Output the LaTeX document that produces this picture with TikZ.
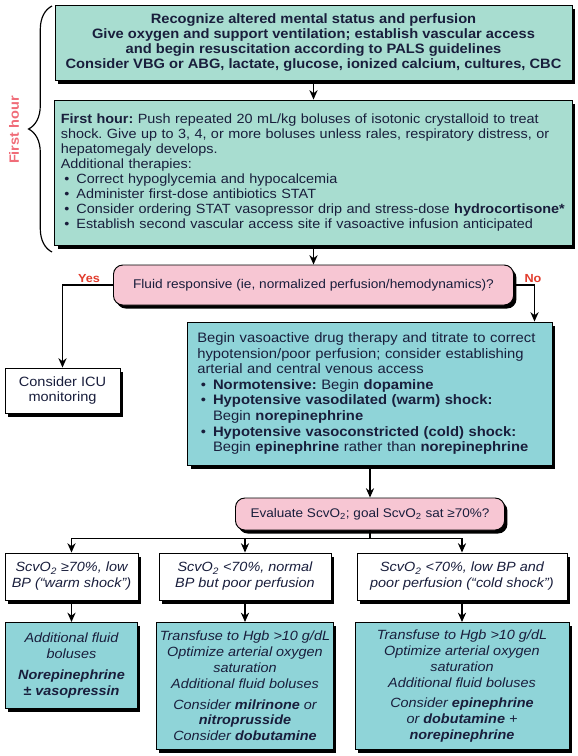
\documentclass[tikz,border=0pt]{standalone}
\usepackage{fontspec}
\setmainfont[FakeStretch=1.08]{Liberation Sans}
\usetikzlibrary{arrows.meta, shadows, calc, decorations.pathreplacing}
\frenchspacing

\definecolor{topgreen}{RGB}{168,221,208}
\definecolor{boxteal}{RGB}{143,212,216}
\definecolor{decpink}{RGB}{247,198,211}
\definecolor{hourred}{RGB}{240,108,120}
\definecolor{yesred}{RGB}{226,60,45}
\definecolor{ink}{RGB}{25,30,60}

\newcommand{\bul}{\hspace*{3pt}\textbullet\hspace*{6pt}}
\newcommand{\bulskip}{\hspace*{3pt}\phantom{\textbullet}\hspace*{6pt}}

\tikzset{
  shadowed/.style={drop shadow={shadow xshift=2.5pt, shadow yshift=-3pt, fill=black, opacity=1}},
  greenbox/.style={draw, line width=0.8pt, fill=topgreen, shadowed, inner xsep=5pt, inner ysep=3pt, text=ink},
  tealbox/.style={greenbox, fill=boxteal},
  whitebox/.style={greenbox, fill=white},
  pinkbox/.style={greenbox, fill=decpink, rounded corners=8pt},
  flow/.style={line width=1.2pt, -{Stealth[length=8pt, width=7pt]}},
  answer/.style={text=yesred, font=\bfseries\fontsize{10}{11}\selectfont},
  body/.style={font=\fontsize{11.4}{12.8}\selectfont},
  itbody/.style={font=\itshape\fontsize{11.4}{13.6}\selectfont},
}

\begin{document}
\begin{tikzpicture}[x=0.03cm, y=-0.03cm]
    \fill[white] (0,0) rectangle (577,756);
    \useasboundingbox (0,0) rectangle (577,756);

    % first hour boxes
    \node[greenbox, minimum width=15.51cm, minimum height=2.25cm, align=center,
          font=\bfseries\fontsize{11.6}{12.8}\selectfont] (assess) at (313.5,42.5)
        {Recognize altered mental status and perfusion\\
         Give oxygen and support ventilation; establish vascular access\\
         and begin resuscitation according to PALS guidelines\\
         Consider VBG or ABG, lactate, glucose, ionized calcium, cultures, CBC};
    \node[greenbox, body, text width=15.16cm, minimum height=4.35cm, align=left] (fluids) at (313.5,172.5)
        {\textbf{First hour:} Push repeated 20 mL/kg boluses of isotonic crystalloid to treat\\
         shock. Give up to 3, 4, or more boluses unless rales, respiratory distress, or\\
         hepatomegaly develops.\\
         Additional therapies:\\
         \bul Correct hypoglycemia and hypocalcemia\\
         \bul Administer first-dose antibiotics STAT\\
         \bul Consider ordering STAT vasopressor drip and stress-dose \textbf{hydrocortisone*}\\
         \bul Establish second vascular access site if vasoactive infusion anticipated};

    % brace and label
    \coordinate (brtop) at (52,6);
    \coordinate (brbot) at (52,252);
    \draw[line width=1pt, decorate, decoration={brace, amplitude=20pt}] (brbot) -- (brtop);
    \node[rotate=90, text=hourred, font=\bfseries\fontsize{11.5}{12}\selectfont] (hour) at (14,130) {First hour};

    % fluid responsive?
    \node[pinkbox, font=\fontsize{10.8}{12}\selectfont, minimum width=12cm, minimum height=1.2cm] (decide) at (313.5,285)
        {Fluid responsive (ie, normalized perfusion/hemodynamics)?};
    \node[whitebox, font=\fontsize{11.5}{13}\selectfont, minimum width=3.45cm, minimum height=1.35cm, align=center] (icu) at (62.5,390.5)
        {Consider ICU\\ monitoring};
    \node[tealbox, font=\fontsize{11.7}{13.3}\selectfont, inner xsep=8pt, text width=10.36cm, minimum height=4.29cm, align=left] (vaso) at (370,393.5)
        {Begin vasoactive drug therapy and titrate to correct\\
         hypotension/poor perfusion; consider establishing\\
         arterial and central venous access\\
         \bul\textbf{Normotensive:} Begin \textbf{dopamine}\\
         \bul\textbf{Hypotensive vasodilated (warm) shock:}\\
         \bulskip Begin \textbf{norepinephrine}\\
         \bul\textbf{Hypotensive vasoconstricted (cold) shock:}\\
         \bulskip Begin \textbf{epinephrine} rather than \textbf{norepinephrine}};
    \coordinate (vasoin) at ($(vaso.north east)+(-18,0)$);

    \draw[flow] (assess) -- (fluids);
    \draw[flow] (fluids) -- (decide);
    \draw[flow] (decide.west) -| (icu.north);
    \draw[flow] (decide.east) -| (vasoin);
    \node[answer, anchor=south] (yes) at (89,287) {Yes};
    \node[answer, anchor=south] (no) at (533,287) {No};

    % ScvO2
    \node[pinkbox, font=\fontsize{10.7}{12}\selectfont, minimum width=8.07cm, minimum height=0.96cm] (scvo) at (370,514)
        {Evaluate ScvO\textsubscript{2}; goal ScvO\textsubscript{2} sat ≥70\%?};
    \draw[flow] (vaso.south -| scvo.north) -- (scvo.north);

    % three shock states
    \node[whitebox, itbody, inner xsep=3pt, minimum width=3.99cm, minimum height=1.41cm, align=center] (warm) at (71.5,576.5)
        {ScvO\textsubscript{2} ≥70\%, low\\ BP (“warm shock”)};
    \node[whitebox, itbody, inner xsep=3pt, minimum width=5.16cm, minimum height=1.41cm, align=center] (normal) at (245,576.5)
        {ScvO\textsubscript{2} <70\%, normal\\ BP but poor perfusion};
    \node[whitebox, itbody, inner xsep=3pt, minimum width=6.3cm, minimum height=1.41cm, align=center] (cold) at (462,576.5)
        {ScvO\textsubscript{2} <70\%, low BP and\\ poor perfusion (“cold shock”)};

    \draw[line width=1.2pt] (scvo.south) -- ++(0,8) coordinate (split);
    \draw[line width=1.2pt, line cap=rect] (split -| warm.north) -- (split -| cold.north);
    \foreach \s in {warm, normal, cold}
        \draw[flow] (split -| \s.north) -- (\s.north);

    % treatments
    \node[tealbox, itbody, inner xsep=2pt, minimum width=3.96cm, minimum height=2.58cm, align=center, anchor=north] (warmtx) at (71.5,622)
        {Additional fluid\\ boluses\\[4pt] \textbf{Norepinephrine}\\ \textbf{± vasopressin}};
    \node[tealbox, itbody, inner xsep=2pt, minimum width=5.31cm, minimum height=3.81cm, align=center, anchor=north] (normaltx) at (245,622)
        {Transfuse to Hgb >10 g/dL\\ Optimize arterial oxygen\\ saturation\\ Additional fluid boluses\\[4pt]
         Consider \textbf{milrinone} or\\ \textbf{nitroprusside}\\ Consider \textbf{dobutamine}};
    \node[tealbox, itbody, inner xsep=2pt, minimum width=6.42cm, minimum height=3.81cm, align=center, anchor=north] (coldtx) at (462,622)
        {Transfuse to Hgb >10 g/dL\\ Optimize arterial oxygen\\ saturation\\ Additional fluid boluses\\[4pt]
         Consider \textbf{epinephrine}\\ or \textbf{dobutamine} +\\ \textbf{norepinephrine}};

    \foreach \a/\b in {warm/warmtx, normal/normaltx, cold/coldtx}
        \draw[flow] (\a) -- (\b);
\end{tikzpicture}
\end{document}
